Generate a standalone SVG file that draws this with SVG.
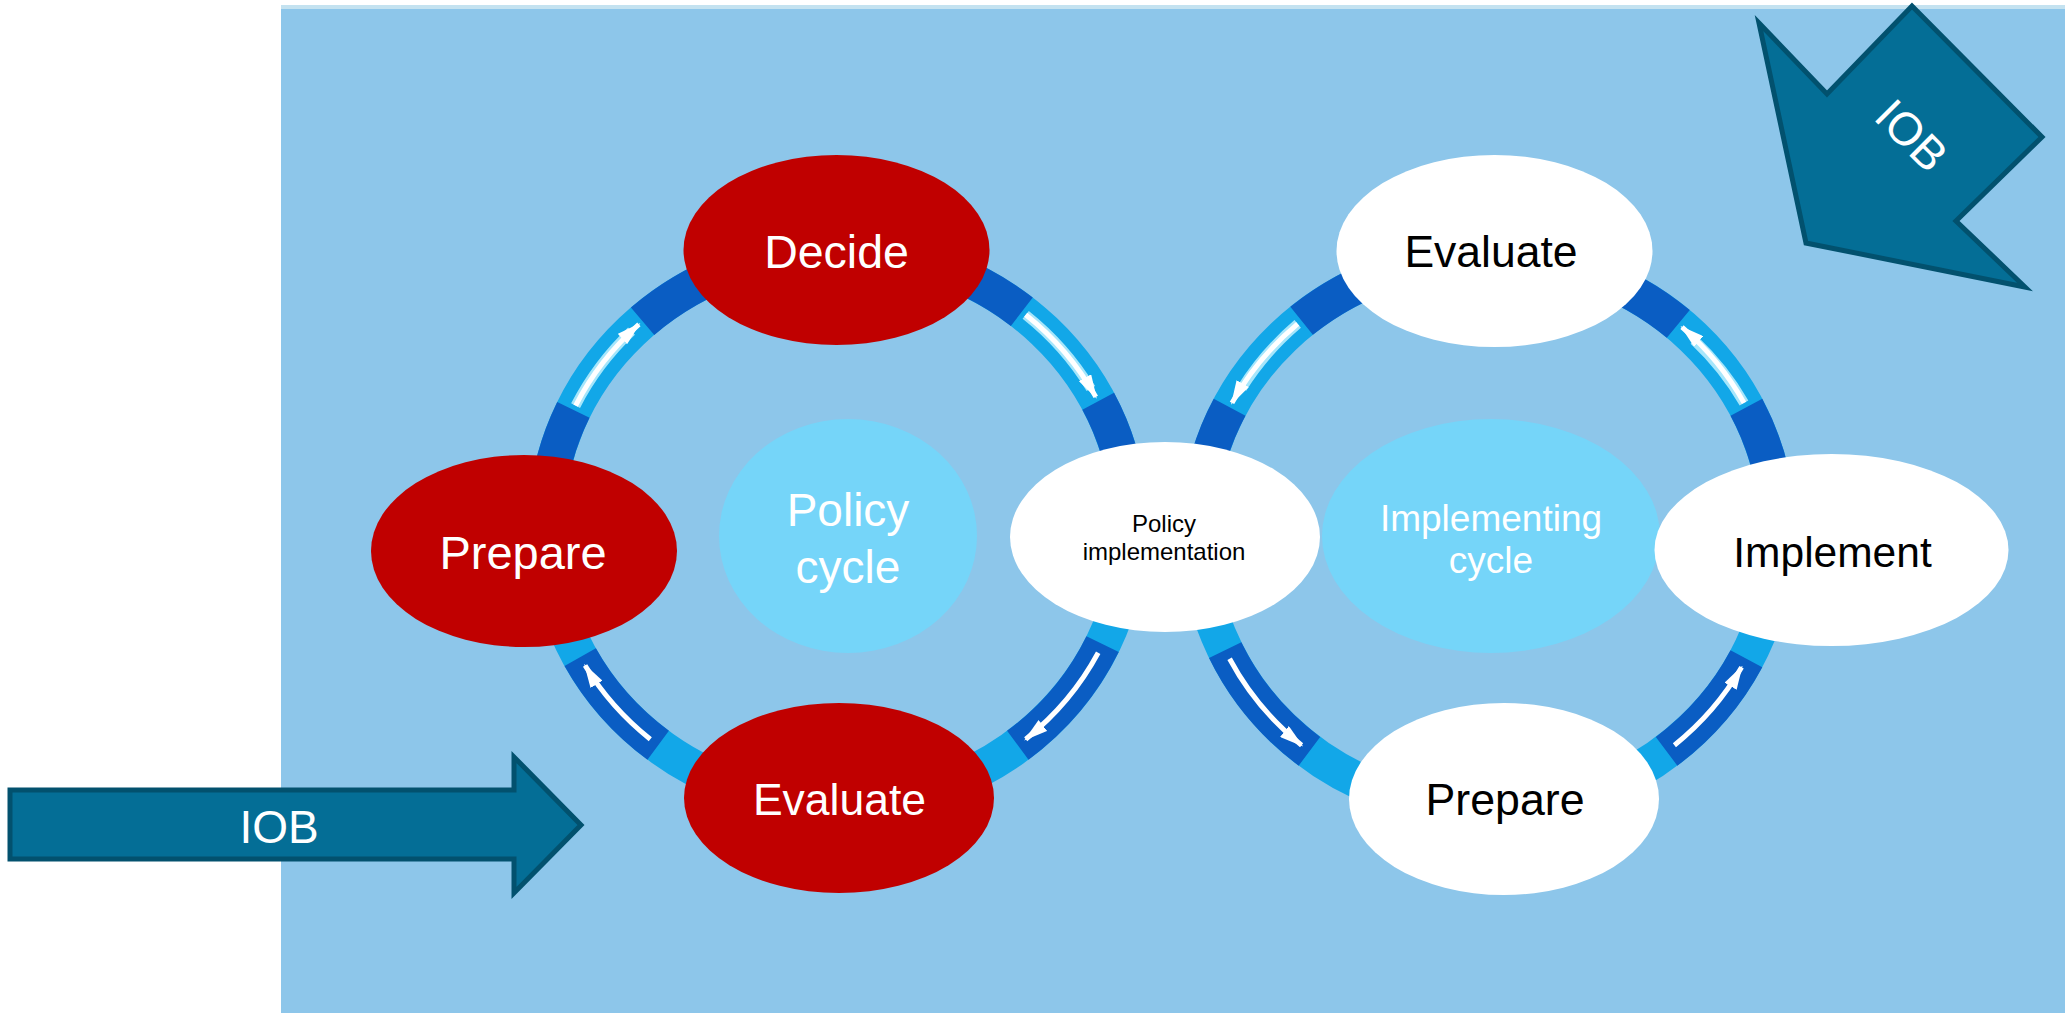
<svg xmlns="http://www.w3.org/2000/svg" width="2065" height="1013" viewBox="0 0 2065 1013">
<style>
  .lbl { font-family: "Liberation Sans", Arial, sans-serif; text-anchor: middle; }
  .red ellipse { fill: #C00000; }
  .red text { fill: #ffffff; }
  .white ellipse { fill: #ffffff; }
  .white text { fill: #000000; }
  .hub ellipse { fill: #75D5F9; }
  .hub text { fill: #ffffff; }
  .band { fill: none; stroke: #12A7E8; stroke-width: 36; }
  .dark { fill: none; stroke: #0A5DC3; stroke-width: 36; }
  .glow { fill: none; stroke: #A6E6FB; stroke-width: 10; }
  .arw { fill: none; stroke: #ffffff; stroke-width: 5; marker-end: url(#tip); }
  .iob { fill: #046E96; stroke: #02516E; stroke-width: 5; }
  .iob-t { fill: #ffffff; font-family: "Liberation Sans", Arial, sans-serif; font-size: 46px; text-anchor: middle; }
</style>
<defs>
  <marker id="tip" viewBox="0 0 24 14" refX="22" refY="7" markerWidth="24" markerHeight="14" orient="auto" markerUnits="userSpaceOnUse">
    <path d="M0,0 L24,7 L0,14 z" fill="#ffffff"/>
  </marker>
</defs>

<!-- backdrop -->
<rect x="0" y="0" width="2065" height="1013" fill="#ffffff"/>
<g id="panel">
  <rect x="281" y="5" width="1784" height="5" fill="#C4E2F0"/>
  <rect x="281" y="9" width="1784" height="1004" fill="#8DC6EA"/>
</g>

<!-- the two loops of the figure eight -->
<g id="connectors">
  <ellipse class="band" cx="838" cy="527" rx="292" ry="277"/>
  <ellipse class="band" cx="1488" cy="533" rx="290" ry="277"/>

  <!-- policy loop: Prepare -> Decide -> Policy implementation -> Evaluate -> Prepare -->
  <path class="dark" d="M546,527 A292,277 0 0 1 573.4,409.9"/>
  <path class="glow" d="M575.6,405.6 A292,277 0 0 1 631.5,331.1"/>
  <path class="arw" d="M575.6,405.6 A292,277 0 0 1 638.9,324.4"/>
  <path class="dark" d="M642.6,321.2 A292,277 0 0 1 738.1,266.7"/>

  <path class="dark" d="M913.6,259.4 A292,277 0 0 1 1021.8,311.7"/>
  <path class="glow" d="M1025.7,314.8 A292,277 0 0 1 1090.9,388.5"/>
  <path class="arw" d="M1025.7,314.8 A292,277 0 0 1 1095.8,396.9"/>
  <path class="dark" d="M1098.2,401.2 A292,277 0 0 1 1128.9,502.8"/>

  <path class="dark" d="M1102.6,644.1 A292,277 0 0 1 1017.8,745.3"/>
  <path class="arw" d="M1098.2,652.8 A292,277 0 0 1 1025.7,739.2"/>

  <path class="dark" d="M658.2,745.3 A292,277 0 0 1 580.2,657.1"/>
  <path class="arw" d="M650.3,739.2 A292,277 0 0 1 585.1,665.5"/>

  <!-- implementing loop: Policy implementation -> Prepare -> Implement -> Evaluate -> Policy implementation -->
  <path class="dark" d="M1301.6,320.8 A290,277 0 0 1 1398.4,269.5"/>
  <path class="glow" d="M1297.7,323.9 A290,277 0 0 0 1242,388"/>
  <path class="arw" d="M1297.7,323.9 A290,277 0 0 0 1232.0,402.9"/>
  <path class="dark" d="M1229.6,407.2 A290,277 0 0 0 1199.1,508.8"/>

  <path class="dark" d="M1587.2,272.7 A290,277 0 0 1 1678.3,323.9"/>
  <path class="glow" d="M1744.0,402.9 A290,277 0 0 0 1694,340"/>
  <path class="arw" d="M1744.0,402.9 A290,277 0 0 0 1682.0,327.2"/>
  <path class="dark" d="M1746.4,407.2 A290,277 0 0 1 1776.9,508.8"/>

  <path class="dark" d="M1309.4,751.3 A290,277 0 0 1 1225.2,650.1"/>
  <path class="arw" d="M1229.6,658.8 A290,277 0 0 0 1301.6,745.2"/>

  <path class="dark" d="M1746.4,658.8 A290,277 0 0 1 1666.6,751.3"/>
  <path class="arw" d="M1674.4,745.2 A290,277 0 0 0 1741.6,667.3"/>
</g>

<!-- centre hubs -->
<g id="policy-cycle" class="hub">
  <ellipse cx="848" cy="536" rx="129" ry="117"/>
  <text class="lbl" x="848" y="526" font-size="46">Policy</text>
  <text class="lbl" x="848" y="583" font-size="46">cycle</text>
</g>
<g id="implementing-cycle" class="hub">
  <ellipse cx="1491" cy="536" rx="169" ry="117"/>
  <text class="lbl" x="1491" y="531" font-size="37">Implementing</text>
  <text class="lbl" x="1491" y="573" font-size="37">cycle</text>
</g>

<!-- policy loop steps -->
<g id="decide" class="red">
  <ellipse cx="836.5" cy="250" rx="153" ry="95"/>
  <text class="lbl" x="836.5" y="268" font-size="46.5">Decide</text>
</g>
<g id="prepare-policy" class="red">
  <ellipse cx="524" cy="551" rx="153" ry="96"/>
  <text class="lbl" x="523" y="569" font-size="47">Prepare</text>
</g>
<g id="evaluate-policy" class="red">
  <ellipse cx="839" cy="798" rx="155" ry="95"/>
  <text class="lbl" x="839.5" y="815" font-size="44.5">Evaluate</text>
</g>

<!-- shared step -->
<g id="policy-implementation" class="white">
  <ellipse cx="1165" cy="537" rx="155" ry="95"/>
  <text class="lbl" x="1164" y="532" font-size="24">Policy</text>
  <text class="lbl" x="1164" y="560" font-size="24">implementation</text>
</g>

<!-- implementing loop steps -->
<g id="evaluate-impl" class="white">
  <ellipse cx="1494.5" cy="251" rx="158" ry="96"/>
  <text class="lbl" x="1491" y="267" font-size="44.5">Evaluate</text>
</g>
<g id="implement" class="white">
  <ellipse cx="1831.5" cy="550" rx="177" ry="96"/>
  <text class="lbl" x="1832.5" y="567" font-size="42.5">Implement</text>
</g>
<g id="prepare-impl" class="white">
  <ellipse cx="1504" cy="799" rx="155" ry="96"/>
  <text class="lbl" x="1505" y="815" font-size="44.7">Prepare</text>
</g>

<!-- IOB inputs -->
<g id="iob-left">
  <polygon class="iob" points="10,790 514,790 514,757 581,825 514,893 514,859 10,859"/>
  <text class="iob-t" x="279" y="843">IOB</text>
</g>
<g id="iob-top">
  <polygon class="iob" points="1759,23 1827,94 1912,6 2042,137 1956,221 2025,287 1806,243"/>
  <text class="iob-t" x="0" y="0" font-size="42" transform="translate(1911,136) rotate(45) translate(0,15)">IOB</text>
</g>
</svg>
